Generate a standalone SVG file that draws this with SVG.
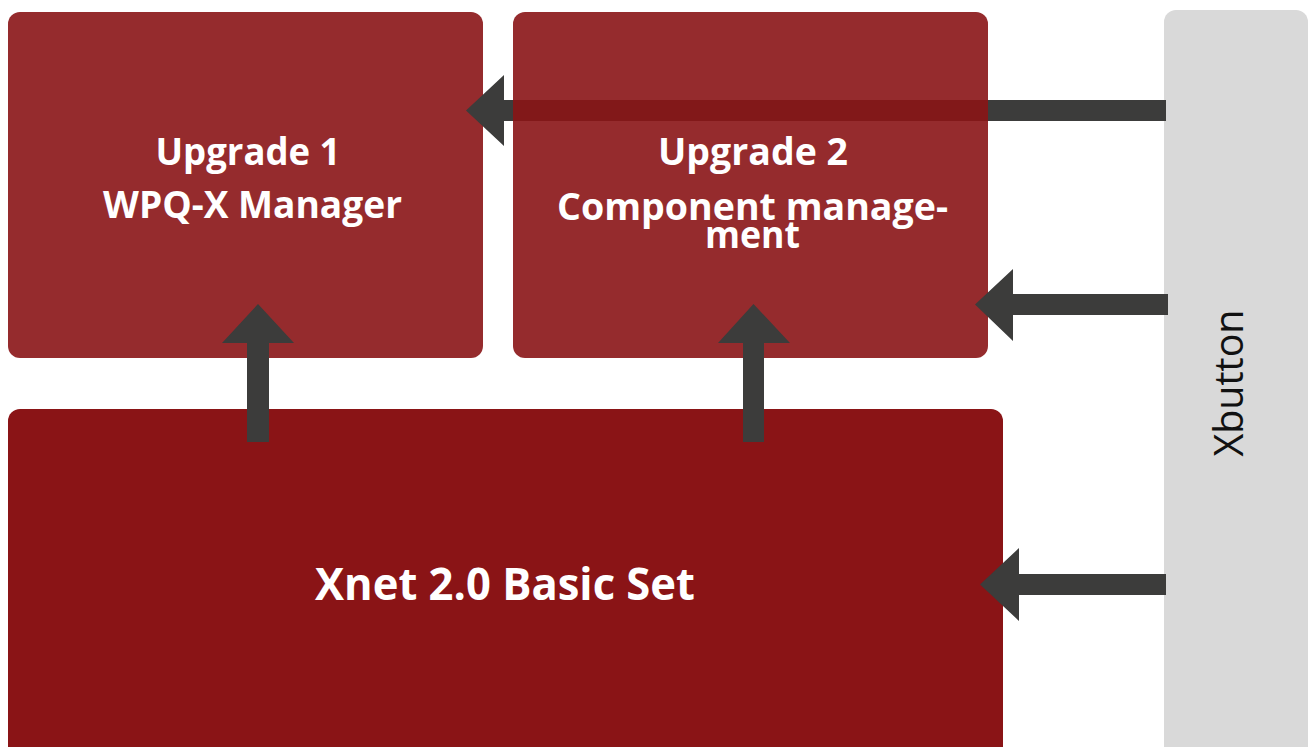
<svg xmlns="http://www.w3.org/2000/svg" width="1308" height="747" viewBox="0 0 1308 747">
  <style>
    .upg { fill: #8a1416; fill-opacity: 0.9; }
    .base { fill: #8a1416; }
    .side { fill: #d9d9d9; }
    .arrow { fill: #3c3c3b; }
    .lbl { font-family: "Open Sans", "Noto Sans", "Liberation Sans", sans-serif; font-weight: 700; fill: #ffffff; text-anchor: middle; }
    .side-lbl { font-family: "Open Sans", "Noto Sans", "Liberation Sans", sans-serif; font-weight: 400; fill: #111111; text-anchor: middle; font-size: 40px; }
  </style>
  <rect width="1308" height="747" fill="#ffffff"/>

  <g id="xbutton">
    <rect class="side" x="1164" y="10" width="144" height="760" rx="12"/>
    <text class="side-lbl" transform="translate(1243,383) rotate(-90)" x="0" y="0" textLength="147" lengthAdjust="spacingAndGlyphs">Xbutton</text>
  </g>

  <g id="basic-set">
    <rect class="base" x="8" y="409" width="995" height="360" rx="12"/>
    <text class="lbl" x="505" y="600" font-size="45" textLength="380" lengthAdjust="spacingAndGlyphs">Xnet 2.0 Basic Set</text>
  </g>

  <g id="upgrade1">
    <rect class="upg" x="8" y="12" width="475" height="346" rx="12"/>
    <text class="lbl" x="248" y="165" font-size="38" textLength="185" lengthAdjust="spacingAndGlyphs">Upgrade 1</text>
    <text class="lbl" x="252.5" y="218" font-size="38" textLength="299" lengthAdjust="spacingAndGlyphs">WPQ-X Manager</text>
  </g>

  <g id="upgrade2">
    <rect class="upg" x="513" y="12" width="475" height="346" rx="12"/>
    <text class="lbl" x="753" y="165" font-size="38" textLength="190" lengthAdjust="spacingAndGlyphs">Upgrade 2</text>
    <text class="lbl" x="752.5" y="220" font-size="38" textLength="391" lengthAdjust="spacingAndGlyphs">Component manage-</text>
    <text class="lbl" x="752.5" y="248" font-size="38" textLength="95" lengthAdjust="spacingAndGlyphs">ment</text>
  </g>

  <g id="connectors">
    <path class="arrow" d="M466,110.5 L504,75 L504,100 L1166,100 L1166,121 L504,121 L504,146 Z"/>
    <rect class="upg" x="513" y="100" width="475" height="21"/>
    <path class="arrow" d="M975,304.5 L1013,269 L1013,294 L1168,294 L1168,315 L1013,315 L1013,341 Z"/>
    <path class="arrow" d="M980,584.5 L1019,548 L1019,574 L1166,574 L1166,595 L1019,595 L1019,621 Z"/>
    <path class="arrow" d="M258,304 L294,343 L269,343 L269,442 L247,442 L247,343 L222,343 Z"/>
    <path class="arrow" d="M753.5,304 L790,343 L764,343 L764,442 L743,442 L743,343 L718,343 Z"/>
  </g>
</svg>
